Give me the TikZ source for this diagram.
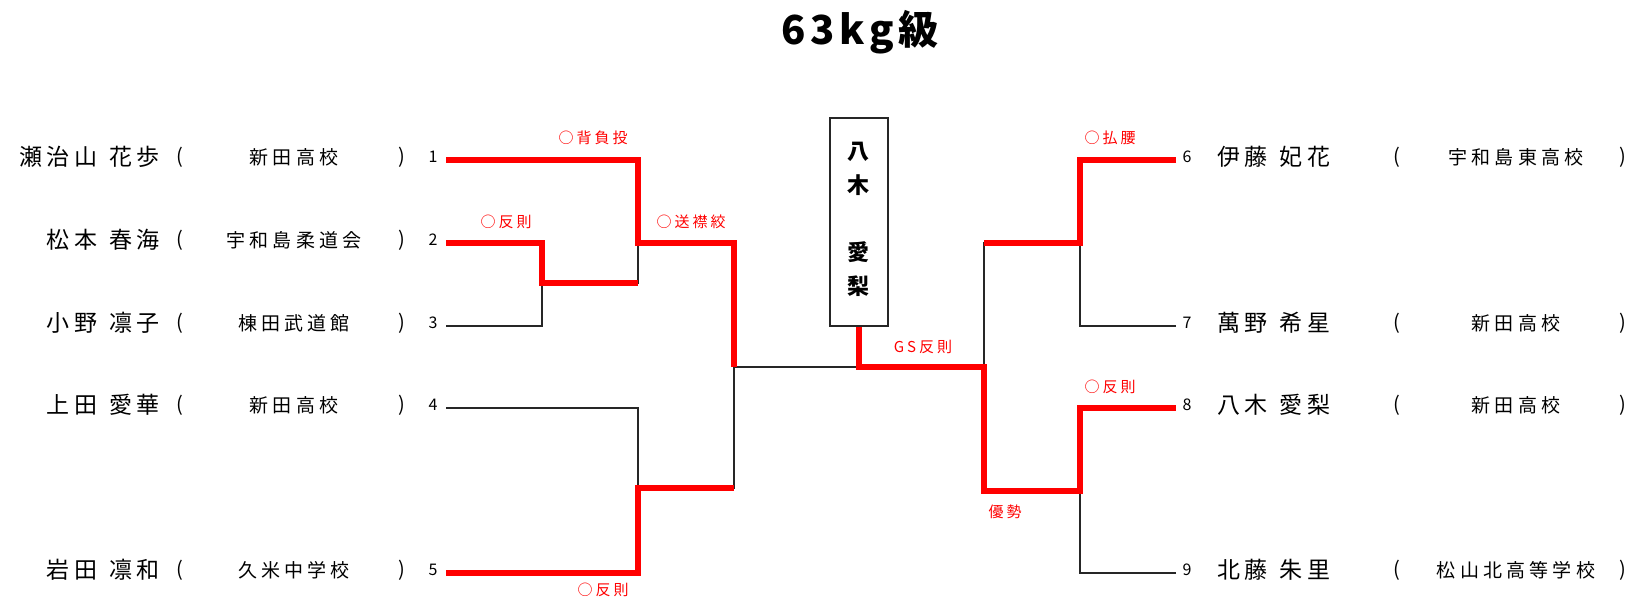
\documentclass[tikz,border=0pt]{standalone}
\usepackage{fontspec}
\setmainfont{Noto Sans CJK JP}
\newfontfamily\namefont{Noto Sans CJK JP}[LetterSpace=20]
\newfontfamily\schoolfont{Noto Sans CJK JP}[LetterSpace=22]
\newfontfamily\labfont{Noto Sans CJK JP}[LetterSpace=20]
\newfontfamily\titlefont{Noto Sans CJK JP}[LetterSpace=12]
\begin{document}
\begin{tikzpicture}[x=1pt,y=-1pt,
  blk/.style={line width=1.8pt, draw=black!85},
  win/.style={line width=6.5pt, draw=red, line join=miter},
  nm/.style={font=\namefont\fontsize{23}{26}\selectfont, inner sep=0pt},
  sch/.style={font=\schoolfont\fontsize{19}{22}\selectfont, inner sep=0pt},
  paren/.style={font=\fontsize{20}{22}\selectfont, inner sep=0pt},
  num/.style={font=\fontsize{16}{18}\selectfont, inner sep=0pt},
  lab/.style={font=\labfont\fontsize{15}{17}\selectfont, text=red, inner sep=0pt},
  boxst/.style={draw=black!85, line width=1.8pt, minimum width=58pt, minimum height=208pt, inner sep=0pt}
]
\useasboundingbox (0,0) rectangle (1635,600);

% title
\node[font=\titlefont\bfseries\fontsize{40}{44}\selectfont, inner sep=0pt] (title) at (860,32) {63kg級};

% left entries
\foreach \i/\n/\s/\y in {1/瀬治山\hspace{2pt} 花歩/新田高校/160, 2/松本\hspace{2pt} 春海/宇和島柔道会/243, 3/小野\hspace{2pt} 凛子/棟田武道館/326, 4/上田\hspace{2pt} 愛華/新田高校/408, 5/岩田\hspace{2pt} 凛和/久米中学校/573}{
  \node[nm, anchor=east] (name\i) at (160,\y-3) {\n};
  \node[paren] (lp\i) at (180,\y-3) {(};
  \node[sch] (sch\i) at (294,\y-3) {\s};
  \node[paren] (rp\i) at (402,\y-3) {)};
  \node[num] (num\i) at (433,\y-3) {\i};
  \coordinate (p\i) at (446,\y);
}

% right entries
\foreach \i/\n/\s/\y in {6/伊藤\hspace{2pt} 妃花/宇和島東高校/160, 7/萬野\hspace{2pt} 希星/新田高校/326, 8/八木\hspace{2pt} 愛梨/新田高校/408, 9/北藤\hspace{2pt} 朱里/松山北高等学校/573}{
  \coordinate (p\i) at (1176,\y);
  \node[num] (num\i) at (1187,\y-3) {\i};
  \node[nm, anchor=west] (name\i) at (1217,\y-3) {\n};
  \node[paren] (lp\i) at (1397,\y-3) {(};
  \node[sch] (sch\i) at (1516,\y-3) {\s};
  \node[paren] (rp\i) at (1623,\y-3) {)};
}

% winner box
\node[boxst] (winbox) at (859,222) {};
\node[font=\bfseries\fontsize{22}{34}\selectfont, align=center, inner sep=0pt] (wname) at (858,219) {八\\木\\[33pt]愛\\梨};

% junctions
\coordinate (j23) at (542,283);
\coordinate (s1) at (638,243);
\coordinate (s2) at (638,488);
\coordinate (f1) at (734,367);
\coordinate (t) at (859,367);
\coordinate (rf) at (984,367);
\coordinate (r1) at (1080,243);
\coordinate (r2) at (1080,491);

% black (losing) lines
\draw[blk] (p3) -| (j23);
\draw[blk] (s1) |- (j23);
\draw[blk] (p4) -| (s2);
\draw[blk] (f1) |- (s2);
\draw[blk] (f1) -- (t);
\draw[blk] (p7) -| (r1);
\draw[blk] (p9) -| (r2);
\draw[blk] (rf) |- (r1);

% red (winning) lines
\draw[win] (p1) -| (s1) -| (f1);
\draw[win] (p2) -| (j23) -- (j23 -| s1);
\draw[win] (p5) -| (s2) -- (s2 -| f1);
\draw[win] (winbox.south) -- (t) -- (rf) |- (r2) |- (p8);
\draw[win] (p6) -| (r1) -- (r1 -| rf);

% result labels
\node[lab] (w12) at (593,138) {○背負投};
\node[lab] (w23) at (506,222) {○反則};
\node[lab] (w15) at (691,222) {○送襟絞};
\node[lab] (w45) at (603,590) {○反則};
\node[lab] (wf) at (923,347) {GS反則};
\node[lab] (w68) at (1005,512) {優勢};
\node[lab] (w67) at (1110,138) {○払腰};
\node[lab] (w89) at (1110,387) {○反則};
\end{tikzpicture}
\end{document}
